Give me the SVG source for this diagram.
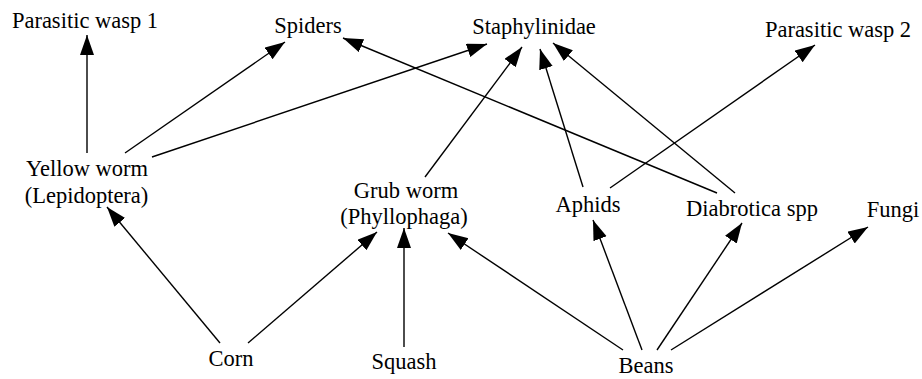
<svg xmlns="http://www.w3.org/2000/svg" width="922" height="379" viewBox="0 0 922 379">
<style>
.n text{font-size:22.5px;fill:#000;text-anchor:middle}
.e line{stroke:#000;stroke-width:1.4;marker-end:url(#ah)}
</style>
<defs>
<marker id="ah" markerUnits="userSpaceOnUse" markerWidth="22" markerHeight="16" refX="20" refY="7" orient="auto">
<path d="M0,0 L20,7 L0,14 z" fill="#000"/>
</marker>
</defs>
<rect width="922" height="379" fill="#fff"/>
<g class="e" id="connectors">
<line x1="87" y1="153" x2="87" y2="35"/>
<line x1="125" y1="153" x2="285" y2="42"/>
<line x1="152" y1="157" x2="487" y2="44"/>
<line x1="425" y1="177" x2="522" y2="47"/>
<line x1="583" y1="187" x2="540" y2="49"/>
<line x1="735" y1="193" x2="553" y2="43"/>
<line x1="717" y1="193" x2="343" y2="38"/>
<line x1="610" y1="188" x2="815" y2="45"/>
<line x1="220" y1="343" x2="107" y2="207"/>
<line x1="248" y1="343" x2="377" y2="232"/>
<line x1="404" y1="347" x2="404" y2="228"/>
<line x1="623" y1="350" x2="448" y2="233"/>
<line x1="642" y1="350" x2="593" y2="220"/>
<line x1="657" y1="350" x2="742" y2="223"/>
<line x1="671" y1="350" x2="868" y2="227"/>
</g>
<g class="n" font-family="'Liberation Serif', 'Times New Roman', serif">
<g id="pw1"><text x="85" y="27.5">Parasitic wasp 1</text></g>
<g id="spiders"><text x="308" y="33">Spiders</text></g>
<g id="staph"><text x="534" y="34">Staphylinidae</text></g>
<g id="pw2"><text x="838" y="37">Parasitic wasp 2</text></g>
<g id="yellow"><text x="87" y="176">Yellow worm</text><text x="86.5" y="203">(Lepidoptera)</text></g>
<g id="grub"><text x="406" y="198">Grub worm</text><text x="404" y="224">(Phyllophaga)</text></g>
<g id="aphids"><text x="588" y="212">Aphids</text></g>
<g id="diab"><text x="752" y="216">Diabrotica spp</text></g>
<g id="fungi"><text x="893" y="217">Fungi</text></g>
<g id="corn"><text x="231" y="366">Corn</text></g>
<g id="squash"><text x="404" y="369">Squash</text></g>
<g id="beans"><text x="646" y="373">Beans</text></g>
</g>
</svg>
